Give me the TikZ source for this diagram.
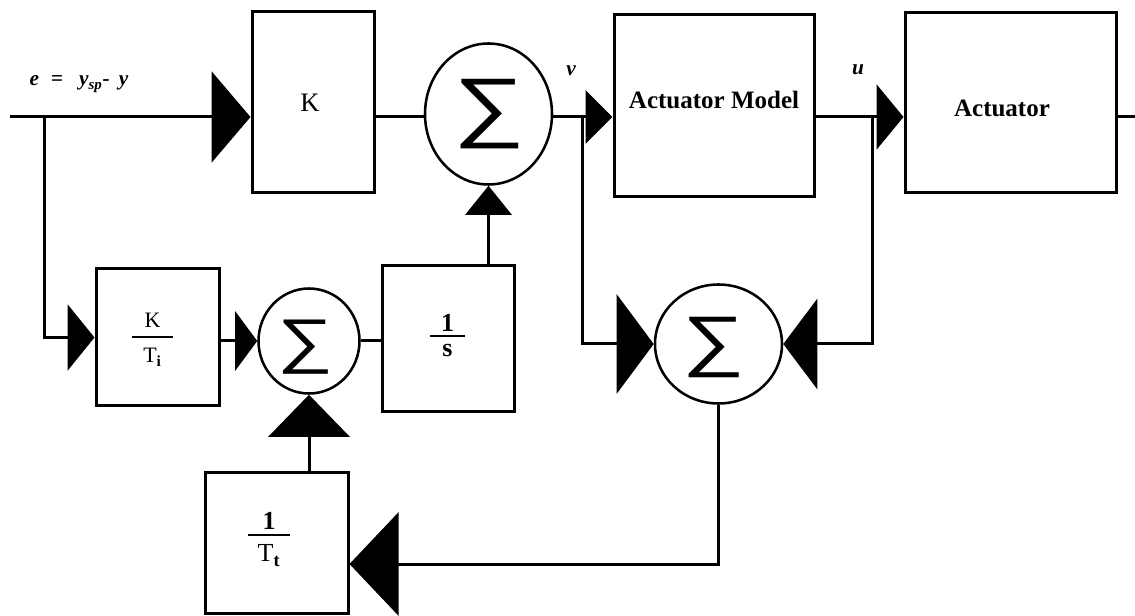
\documentclass[tikz,border=0pt]{standalone}
\usepackage{fontspec}
\setmainfont{Liberation Serif}
\newfontfamily\sigfont{Liberation Sans}
\usetikzlibrary{arrows.meta,shapes.geometric}
\tikzset{
  blk/.style={draw, line width=2.25pt, rectangle, inner sep=0pt},
  sumj/.style={draw, line width=1.9pt, ellipse, inner sep=0pt},
  wire/.style={line width=2.25pt},
  txt/.style={inner sep=0pt, align=center},
  lbl/.style={inner sep=0pt, font=\fontsize{16}{18}\selectfont\bfseries\itshape},
  sig/.style={inner sep=0pt, font=\sigfont\fontsize{58}{58}\selectfont},
}
\begin{document}
\begin{tikzpicture}[x=0.75pt,y=-0.75pt]
\path[use as bounding box, fill=white] (0,0) rectangle (1135,616);

% blocks
\node[blk, minimum width=122*0.75pt, minimum height=181*0.75pt] (K) at (313,102.5) {};
\node[sumj, minimum width=127*0.75pt, minimum height=141*0.75pt] (sum1) at (488.5,114) {};
\node[blk, minimum width=200*0.75pt, minimum height=182*0.75pt] (AM) at (714,106) {};
\node[blk, minimum width=211*0.75pt, minimum height=180*0.75pt] (Act) at (1010.5,103) {};
\node[blk, minimum width=123*0.75pt, minimum height=137*0.75pt] (KTi) at (157.5,337.5) {};
\node[sumj, minimum width=101*0.75pt, minimum height=105*0.75pt] (sum2) at (309,341) {};
\node[blk, minimum width=132*0.75pt, minimum height=146*0.75pt] (S) at (448,339) {};
\node[blk, minimum width=143*0.75pt, minimum height=141*0.75pt] (Tt) at (276.5,542.5) {};
\node[sumj, minimum width=127*0.75pt, minimum height=119*0.75pt] (sum3) at (718.5,344) {};

% texts in blocks
\node[txt, font=\fontsize{20}{22}\selectfont] (tK) at (310,103) {K};
\node[txt, font=\fontsize{18.75}{20}\selectfont\bfseries] (tAM) at (714,100) {Actuator Model};
\node[txt, font=\fontsize{18.75}{20}\selectfont\bfseries] (tAct) at (1002,108) {Actuator};
\node[txt, font=\fontsize{16.5}{18}\selectfont] (tKTi) at (152.5,340)
  {K\\[-10.5pt]\rule{30.75pt}{1.5pt}\\[0.75pt]T\textsubscript{\bfseries i}};
\node[txt, font=\fontsize{19.5}{20}\selectfont\bfseries] (tS) at (447.5,335.5)
  {1\\[-15.5pt]\rule{26.25pt}{1.5pt}\\[-5.75pt]s};
\node[txt, font=\fontsize{19.5}{20}\selectfont] (tTt) at (269,539.5)
  {\textbf{1}\\[-15.5pt]\rule{31.5pt}{1.5pt}\\[-0.5pt]T\textsubscript{\bfseries t}};

% sigma symbols
\node[sig, xscale=1.3] (g1) at (489,114) {∑};
\node[sig, xscale=1.3, scale=0.78] (g2) at (305,347) {∑};
\node[sig, xscale=1.3, scale=0.87] (g3) at (714,347) {∑};

% signal labels
\node[lbl] (le) at (79,84) {e\hspace{9pt}=\hspace{12pt}y\textsubscript{sp}-\hspace{7pt}y};
\node[lbl] (lv) at (571,71) {v};
\node[lbl] (lu) at (858,70) {u};

% connection points
\coordinate (in) at (10,117);
\coordinate (j1) at (44,117);
\coordinate (vj) at (582,117);
\coordinate (uj) at (872,117);
\coordinate (out) at (1135,117);
\coordinate (b3) at (718.5,564);

% wires
\draw[wire] (in) -- (j1);
\draw[wire,-{Triangle[length=29.25pt,width=68.25pt]}] (j1) -- (K.west |- j1);
\draw[wire] (K.east |- j1) -- (sum1.west |- j1);
\draw[wire] (sum1.east |- j1) -- (vj);
\draw[wire,-{Triangle[length=20.25pt,width=39.75pt]}] (vj) -- (AM.west |- vj);
\draw[wire] (AM.east |- uj) -- (uj);
\draw[wire,-{Triangle[length=20.25pt,width=48.75pt]}] (uj) -- (Act.west |- uj);
\draw[wire] (Act.east |- out) -- (out);
\draw[wire,-{Triangle[length=20.25pt,width=49.5pt]}] (j1) |- (KTi.west);
\draw[wire,-{Triangle[length=16.5pt,width=44.25pt]}] (KTi.east |- sum2.west) -- (sum2.west);
\draw[wire] (sum2.east) -- (sum2.east -| S.west);
\draw[wire,-{Triangle[length=21.75pt,width=34.5pt]}] (S.north -| sum1.south) -- (sum1.south);
\draw[wire,-{Triangle[length=31.5pt,width=60.75pt]}] (Tt.north -| sum2.south) -- (sum2.south);
\draw[wire,-{Triangle[length=27.75pt,width=74.25pt]}] (vj) |- (sum3.west);
\draw[wire,-{Triangle[length=25.5pt,width=67.5pt]}] (uj) |- (sum3.east);
\draw[wire,-{Triangle[length=36.75pt,width=77.25pt]}] (sum3.south) -- (b3) -- (Tt.east |- b3);
\end{tikzpicture}
\end{document}
